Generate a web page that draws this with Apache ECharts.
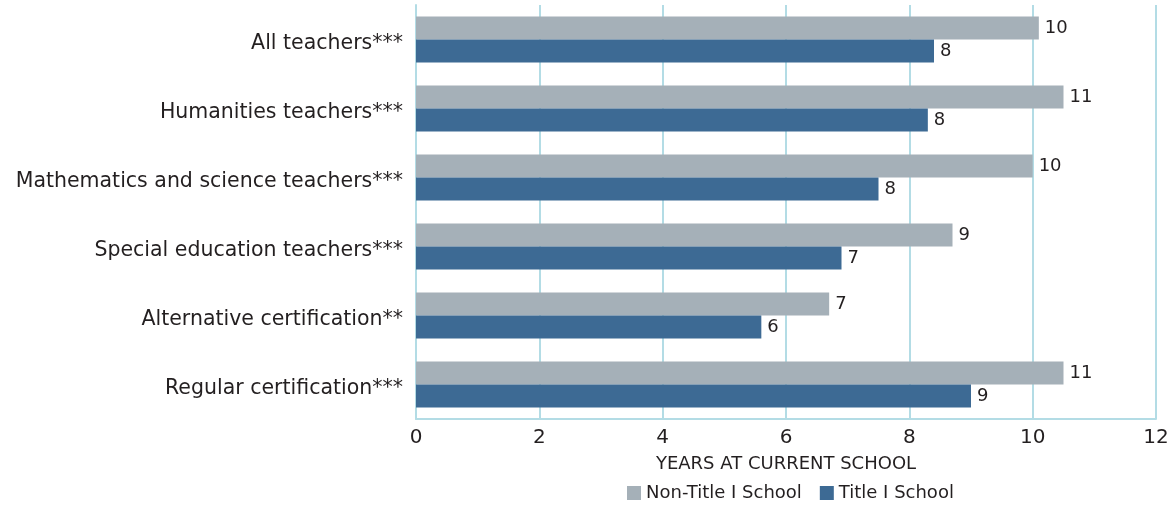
<!DOCTYPE html>
<html><head><meta charset="utf-8">
<script src="https://cdn.jsdelivr.net/npm/echarts@6/dist/echarts.min.js"></script>
<style>html,body{margin:0;padding:0;background:#fff}#c{width:1174px;height:508px}</style>
</head><body><div id="c"></div>
<script>
const categories = ["All teachers***","Humanities teachers***","Mathematics and science teachers***","Special education teachers***","Alternative certification**","Regular certification***"];
const nonTitleI = [10.1, 10.5, 10.0, 8.7, 6.7, 10.5];
const titleI = [8.4, 8.3, 7.5, 6.9, 5.6, 9.0];
const nonTitleILabels = [10, 11, 10, 9, 7, 11];
const titleILabels = [8, 8, 8, 7, 6, 9];
const xTicks = [0, 2, 4, 6, 8, 10, 12];

const font = "'DejaVu Sans', sans-serif";
const txt = '#231f20';
const chart = echarts.init(document.getElementById('c'));
chart.setOption({
  animation: false,
  textStyle: {fontFamily: font},
  grid: {left: 416, right: 18, top: 5, bottom: 89},
  legend: {
    bottom: 1, left: 622, itemWidth: 14, itemHeight: 14, itemGap: 18,
    icon: 'rect',
    textStyle: {fontSize: 18, color: txt, fontFamily: font},
    data: ['Non-Title I School', 'Title I School']
  },
  xAxis: {
    type: 'value', min: xTicks[0], max: xTicks[xTicks.length-1], interval: 2,
    name: 'YEARS AT CURRENT SCHOOL', nameLocation: 'middle', nameGap: 36,
    nameTextStyle: {fontSize: 18, color: txt, fontFamily: font},
    axisLine: {show: true, lineStyle: {color: '#b3dce5', width: 2}},
    axisTick: {show: false},
    axisLabel: {fontSize: 20, color: txt, margin: 9, fontFamily: font},
    splitLine: {show: true, lineStyle: {color: '#b3dce5', width: 2}}
  },
  yAxis: {
    type: 'category', inverse: true, data: categories,
    axisLine: {show: true, lineStyle: {color: '#b3dce5', width: 2}},
    axisTick: {show: false},
    axisLabel: {
      margin: 13,
      formatter: v => '{a|' + v + '}',
      rich: {a: {fontSize: 20.5, color: txt, fontFamily: font, padding: [8, 0, 0, 0]}}
    }
  },
  series: [
    {
      name: 'Non-Title I School', type: 'bar', data: nonTitleI,
      itemStyle: {color: '#a5b0b8'}, barGap: '0%', barCategoryGap: '33.3%',
      label: {show: true, position: 'right', distance: 6, fontSize: 18, color: txt, fontFamily: font,
        formatter: p => nonTitleILabels[p.dataIndex]}
    },
    {
      name: 'Title I School', type: 'bar', data: titleI,
      itemStyle: {color: '#3d6a94'}, barGap: '0%', barCategoryGap: '33.3%',
      label: {show: true, position: 'right', distance: 6, fontSize: 18, color: txt, fontFamily: font,
        formatter: p => titleILabels[p.dataIndex]}
    }
  ]
});
</script></body></html>
